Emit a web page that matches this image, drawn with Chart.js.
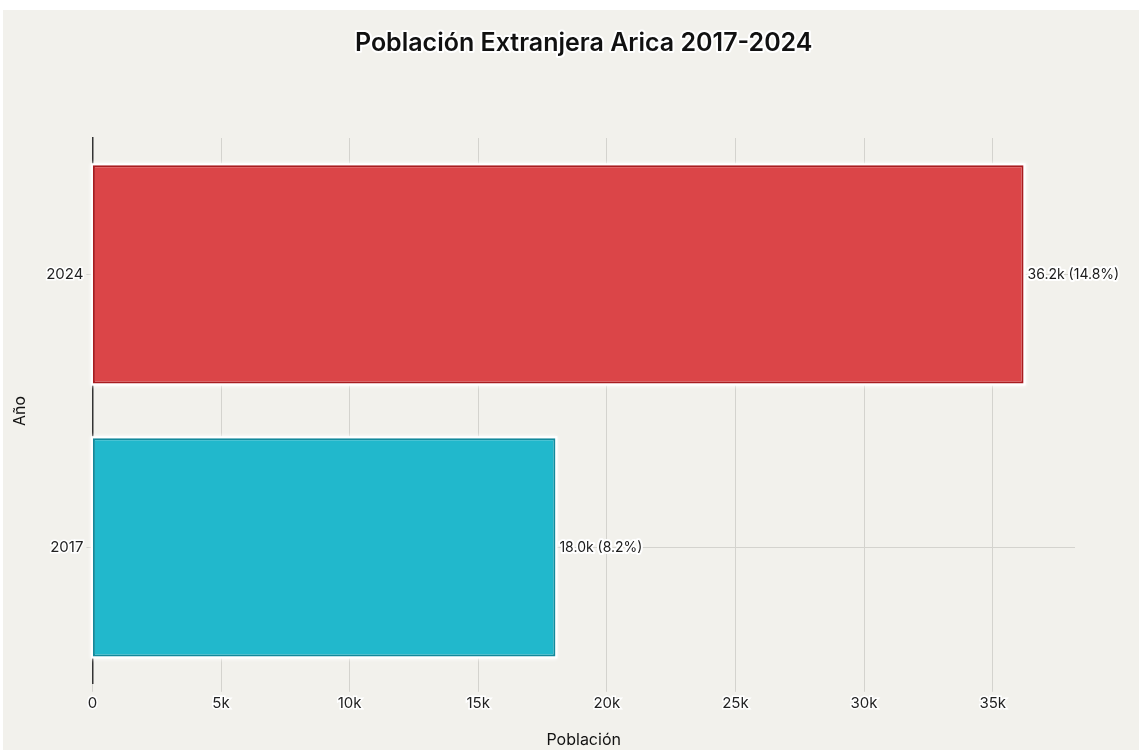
<!DOCTYPE html>
<html>
<head>
<meta charset="utf-8">
<script src="https://cdn.jsdelivr.net/npm/chart.js@4"></script>
<style>
  html, body { margin: 0; padding: 0; background: #ffffff; }
  #wrap { position: absolute; left: 3px; top: 10px; width: 1136px; height: 740px; background: #f2f1ec; }
</style>
</head>
<body>
<div id="wrap"><canvas id="chart" width="1136" height="740"></canvas></div>
<script>
// --- Data ---
const chartTitle = 'Población Extranjera Arica 2017-2024';
const years = ['2024', '2017'];
const population = [36200, 18000];
const percentages = [14.8, 8.2];
const xTicks = [0, 5000, 10000, 15000, 20000, 25000, 30000, 35000];
const barColors = ['#db4548', '#21b8cc'];
const borderColors = ['#a81c20', '#13899b'];

// white halo behind the bars (drawn before the bars themselves)
const barHalo = {
    id: 'barHalo',
    beforeDatasetsDraw(chart) {
        const ctx = chart.ctx;
        const meta = chart.getDatasetMeta(0);
        ctx.save();
        ctx.fillStyle = '#ffffff';
        ctx.shadowColor = '#ffffff';
        ctx.shadowBlur = 4;
        meta.data.forEach(bar => {
            const p = bar.getProps(['x', 'y', 'base', 'height'], true);
            const left = Math.min(p.base, p.x) - 2;
            const width = Math.abs(p.x - p.base) + 4;
            ctx.fillRect(left, p.y - p.height / 2 - 2, width, p.height + 4);
        });
        ctx.restore();
    }
};

// title centred over the plot area, plus value labels at the end of each bar
const labelsPlugin = {
    id: 'labelsPlugin',
    afterDraw(chart) {
        const ctx = chart.ctx;
        const area = chart.chartArea;
        ctx.save();
        ctx.lineJoin = 'round';
        ctx.strokeStyle = '#ffffff';

        ctx.font = '600 25px Inter';
        ctx.textAlign = 'center';
        ctx.textBaseline = 'middle';
        ctx.lineWidth = 4;
        const tx = (area.left + area.right) / 2;
        ctx.strokeText(chartTitle, tx, 33);
        ctx.fillStyle = '#111111';
        ctx.fillText(chartTitle, tx, 33);

        ctx.font = '14px Inter';
        ctx.textAlign = 'left';
        ctx.lineWidth = 4;
        const meta = chart.getDatasetMeta(0);
        meta.data.forEach((bar, i) => {
            const text = `${(population[i] / 1000).toFixed(1)}k (${percentages[i]}%)`;
            const x = bar.x + 4;
            ctx.strokeText(text, x, bar.y);
            ctx.fillStyle = '#1a1a1a';
            ctx.fillText(text, x, bar.y);
        });
        ctx.restore();
    }
};

new Chart(document.getElementById('chart').getContext('2d'), {
    type: 'bar',
    data: {
        labels: years,
        datasets: [{
            data: population,
            backgroundColor: barColors,
            borderColor: borderColors,
            borderWidth: 2,
            borderSkipped: false,
            barPercentage: 0.8,
            categoryPercentage: 1.0
        }]
    },
    options: {
        indexAxis: 'y',
        responsive: false,
        animation: false,
        layout: { padding: { top: 128, right: 64, bottom: 0, left: 8 } },
        plugins: {
            legend: { display: false },
            tooltip: { enabled: false },
            title: { display: false }
        },
        scales: {
            x: {
                min: 0,
                max: 38200,
                afterBuildTicks: axis => { axis.ticks = xTicks.map(v => ({ value: v })); },
                border: { display: false },
                grid: { color: '#d4d3ce', tickLength: 8 },
                ticks: {
                    color: '#222222',
                    font: { family: 'Inter', size: 15 },
                    textStrokeColor: '#ffffff',
                    textStrokeWidth: 3,
                    callback: v => v === 0 ? '0' : (v / 1000) + 'k'
                },
                title: {
                    display: true,
                    text: 'Población',
                    color: '#111111',
                    font: { family: 'Inter', size: 16 },
                    padding: { top: 15, bottom: 0 }
                }
            },
            y: {
                border: { display: true, color: '#333333', width: 1.5 },
                grid: { offset: false, color: '#d4d3ce', tickLength: 6 },
                ticks: {
                    color: '#222222',
                    font: { family: 'Inter', size: 15 },
                    textStrokeColor: '#ffffff',
                    textStrokeWidth: 3
                },
                title: {
                    display: true,
                    text: 'Año',
                    color: '#111111',
                    font: { family: 'Inter', size: 16 },
                    padding: { top: 0, bottom: 13 }
                }
            }
        }
    },
    plugins: [barHalo, labelsPlugin]
});
</script>
</body>
</html>
